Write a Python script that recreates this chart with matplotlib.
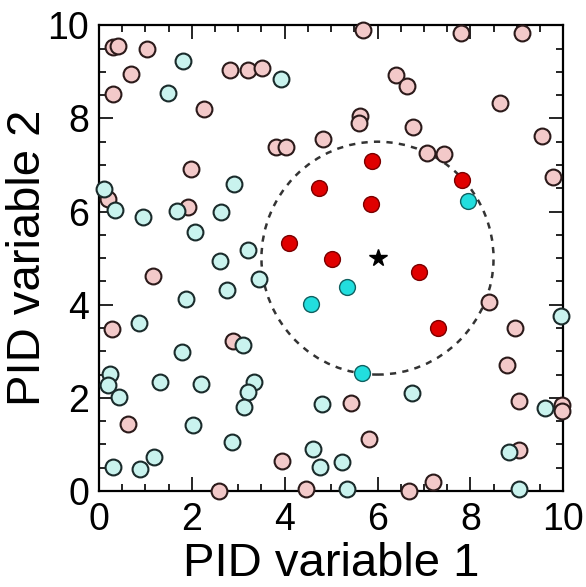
import matplotlib.pyplot as plt
from matplotlib.patches import Circle
from matplotlib.ticker import MultipleLocator

plt.rcParams['font.family'] = ['Liberation Sans', 'DejaVu Sans']

# background, type A (pink)
bg_a_x = [0.30, 0.41, 1.03, 0.69, 2.82, 3.21, 3.51, 0.30, 2.26, 3.81, 4.03, 4.83, 1.98,
          0.19, 1.92, 5.69, 7.80, 9.12, 6.40, 6.64, 8.64, 5.63, 5.60, 6.77, 9.55, 7.07,
          7.44, 9.78, 1.16, 0.28, 2.89, 0.63, 3.94, 2.59, 4.46, 8.41, 8.97, 8.79, 5.43,
          9.05, 9.98, 9.98, 5.82, 9.05, 7.20, 6.68]
bg_a_y = [9.53, 9.55, 9.48, 8.95, 9.03, 9.03, 9.08, 8.52, 8.20, 7.38, 7.38, 7.55, 6.91,
          6.27, 6.09, 9.89, 9.83, 9.83, 8.93, 8.69, 8.33, 8.05, 7.90, 7.81, 7.62, 7.25,
          7.23, 6.74, 4.61, 3.48, 3.22, 1.44, 0.64, 0.00, 0.04, 4.06, 3.50, 2.70, 1.89,
          1.93, 1.85, 1.72, 1.12, 0.88, 0.19, 0.00]

# background, type B (cyan)
bg_b_x = [1.81, 3.92, 1.49, 2.91, 0.11, 0.34, 0.95, 1.68, 2.63, 2.07, 3.21, 2.61, 3.45,
          2.76, 1.88, 0.86, 3.10, 1.79, 0.24, 0.19, 0.43, 1.31, 2.20, 3.34, 3.21, 3.13,
          4.81, 2.03, 2.87, 4.61, 1.19, 0.30, 0.88, 4.76, 9.96, 6.75, 9.61, 8.84, 5.24,
          5.34, 9.05]
bg_b_y = [9.23, 8.84, 8.54, 6.59, 6.48, 6.03, 5.88, 6.01, 5.99, 5.56, 5.17, 4.94, 4.55,
          4.31, 4.12, 3.60, 3.13, 2.98, 2.51, 2.27, 2.02, 2.34, 2.30, 2.34, 2.12, 1.80,
          1.87, 1.42, 1.05, 0.90, 0.73, 0.52, 0.47, 0.52, 3.76, 2.10, 1.78, 0.84, 0.62,
          0.04, 0.04]

# selected inside the circle
sel_a_x = [4.74, 5.88, 5.86, 4.10, 5.02, 6.90, 7.31, 7.82]
sel_a_y = [6.50, 7.08, 6.16, 5.32, 4.98, 4.70, 3.50, 6.67]
sel_b_x = [4.57, 5.34, 5.67, 7.95]
sel_b_y = [4.01, 4.38, 2.53, 6.22]

centre = (6.0, 5.0)
radius = 2.5

fig = plt.figure(figsize=(5.86, 5.87), dpi=100)
ax = fig.add_axes([0.169, 0.1635, 0.792, 0.7935])

ms = 130
ax.scatter(bg_a_x, bg_a_y, s=ms, c='#f3c9c9', edgecolors='#2b1a1a', linewidths=1.5,
           clip_on=False, zorder=3)
ax.scatter(bg_b_x, bg_b_y, s=ms, c='#c9f3ee', edgecolors='#1a2b2b', linewidths=1.5,
           clip_on=False, zorder=3)
ax.scatter(sel_a_x, sel_a_y, s=ms, c='#e00000', edgecolors='#7a0000', linewidths=1.0,
           clip_on=False, zorder=4)
ax.scatter(sel_b_x, sel_b_y, s=ms, c='#22dede', edgecolors='#106060', linewidths=1.0,
           clip_on=False, zorder=4)

ax.add_patch(Circle(centre, radius, fill=False, ls=(0, (2.5, 2.5)), lw=1.8,
                    color='#333333', zorder=2))
ax.plot(centre[0], centre[1], marker='*', ms=13, color='black', zorder=5)

ax.set_xlim(0, 10)
ax.set_ylim(0, 10)
ax.xaxis.set_major_locator(MultipleLocator(2))
ax.yaxis.set_major_locator(MultipleLocator(2))
ax.xaxis.set_minor_locator(MultipleLocator(0.5))
ax.yaxis.set_minor_locator(MultipleLocator(0.5))
ax.tick_params(which='both', direction='in', top=True, right=True, width=1.2)
ax.tick_params(which='major', length=10, labelsize=27)
ax.tick_params(axis='x', which='major', pad=8)
ax.tick_params(axis='y', which='major', pad=7)
ax.tick_params(which='minor', length=5)
for s in ax.spines.values():
    s.set_linewidth(1.6)

ax.set_xlabel('PID variable 1', fontsize=34, labelpad=2.5)
ax.set_ylabel('PID variable 2', fontsize=34)
ax.yaxis.set_label_coords(-0.106, 0.5)

fig.savefig('out.png', dpi=100)
